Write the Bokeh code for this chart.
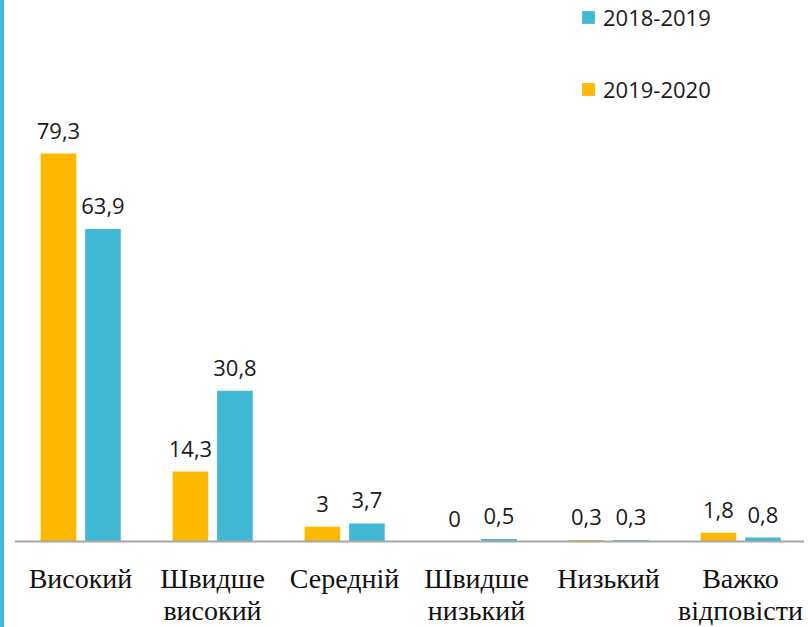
from bokeh.plotting import figure
from bokeh.models import ColumnDataSource, FactorRange, Range1d, LabelSet, Legend, LegendItem, Span
from bokeh.core.properties import value
from bokeh.transform import dodge
from bokeh.embed import file_html
from bokeh.resources import INLINE

categories = ["Високий", "Швидше високий", "Середній", "Швидше низький", "Низький", "Важко відповісти"]
tick_labels_line1 = ["Високий", "Швидше", "Середній", "Швидше", "Низький", "Важко"]
tick_labels_line2 = ["", "високий", "", "низький", "", "відповісти"]
series_names = ["2018-2019", "2019-2020"]
values_2018_2019 = [63.9, 30.8, 3.7, 0.5, 0.3, 0.8]
values_2019_2020 = [79.3, 14.3, 3.0, 0.0, 0.3, 1.8]

CYAN = "#41B9D5"
ORANGE = "#FDB800"

def fmt(v):
    return ("%g" % v).replace(".", ",")

src = ColumnDataSource(dict(
    cat=categories,
    a=values_2018_2019,
    b=values_2019_2020,
    la=[fmt(v) for v in values_2018_2019],
    lb=[fmt(v) for v in values_2019_2020],
    t1=tick_labels_line1,
    t2=tick_labels_line2,
    zero=[0] * len(categories),
))

p = figure(x_range=FactorRange(factors=categories, range_padding=0),
           y_range=Range1d(-17.58, 110.6),
           width=804, height=627, output_backend="svg", toolbar_location=None,
           min_border_left=10, min_border_right=2, min_border_top=0, min_border_bottom=0)
p.styles = {"border-left": "4px solid " + CYAN}

rb = p.vbar(x=dodge("cat", -0.167, range=p.x_range), top="b", width=0.27, source=src,
            fill_color=ORANGE, line_color=None)
ra = p.vbar(x=dodge("cat", 0.17, range=p.x_range), top="a", width=0.27, source=src,
            fill_color=CYAN, line_color=None)

p.add_layout(Span(location=0, dimension="width", line_color="#A6A6A6", line_width=2))

for off, col, lab in [(-0.167, "b", "lb"), (0.17, "a", "la")]:
    ls = LabelSet(x=dodge("cat", off, range=p.x_range), y=col, text=lab, source=src,
                  text_align="center", text_baseline="alphabetic", y_offset=15,
                  text_font=value("Open Sans"), text_font_size="22px", text_color="#1a1a1a")
    p.add_layout(ls)

for fld, yoff in [("t1", 37), ("t2", 69)]:
    p.text(x="cat", y="zero", text=fld, source=src,
           text_align="center", text_baseline="alphabetic", y_offset=yoff,
           text_font=value("Liberation Serif"),
           text_font_size="28px", text_color="#111111")

legend = Legend(items=[LegendItem(label=series_names[0], renderers=[ra]),
                       LegendItem(label=series_names[1], renderers=[rb])],
                location=(566, 523), orientation="vertical",
                glyph_width=16, glyph_height=16, label_standoff=7, spacing=42, padding=0,
                border_line_color=None, background_fill_alpha=0,
                label_text_font="Open Sans", label_text_font_size="22px", label_text_color="#1a1a1a")
p.add_layout(legend)

p.xaxis.visible = False
p.yaxis.visible = False
p.grid.visible = False
p.outline_line_color = None

html = file_html(p, INLINE)
html = html.replace("<head>", "<head><style>html,body{margin:0;padding:0;}</style>", 1)
open("out.html", "w").write(html)
